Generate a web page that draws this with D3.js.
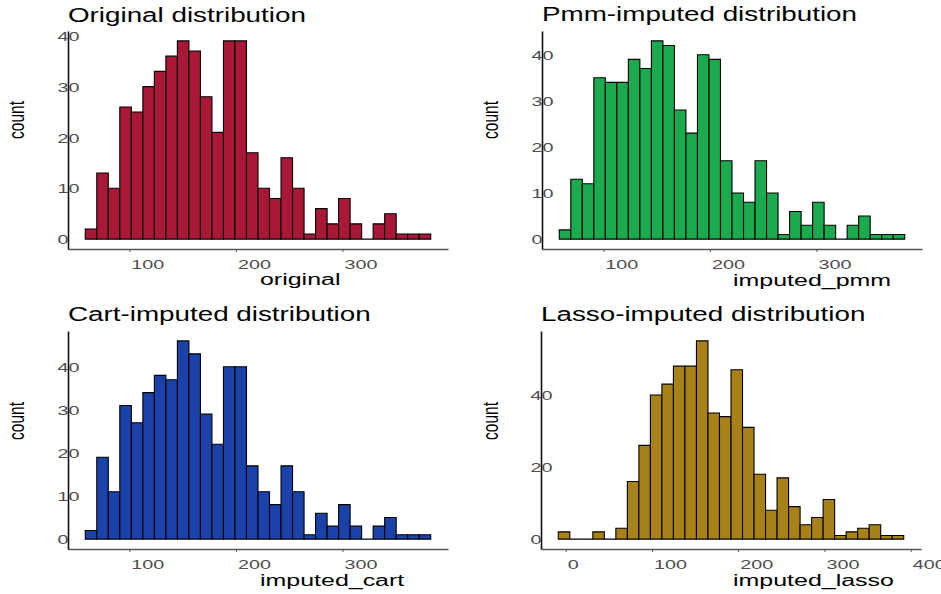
<!DOCTYPE html>
<html>
<head>
<meta charset="utf-8">
<script src="https://cdn.jsdelivr.net/npm/d3@7"></script>
<style>
  body { margin: 0; background: #fff; }
  svg { display: block; font-family: "Liberation Sans", Arial, sans-serif; }
</style>
</head>
<body>
<div id="chart"></div>
<script>
// datos: conteos por bin (30 bins cada histograma)
const origCounts  = [2,13,10,26,25,30,33,36,39,37,28,21,39,39,17,10,8,16,10,1,6,3,8,3,0,3,5,1,1,1]
const pmmCounts   = [2,13,12,35,34,34,39,37,43,42,28,23,40,39,17,10,8,17,10,1,6,3,8,3,0,3,5,1,1,1]
const cartCounts  = [2,19,11,31,27,34,38,37,46,43,29,22,40,40,17,11,8,17,11,1,6,3,8,3,0,3,5,1,1,1]
const lassoCounts = [2,0,0,2,0,3,16,26,40,43,48,48,55,35,34,47,31,18,8,17,9,4,6,11,1,2,3,4,1,1]

const titles = ["Original distribution", "Pmm-imputed distribution", "Cart-imputed distribution", "Lasso-imputed distribution"]
const xLabels = ["original", "imputed_pmm", "imputed_cart", "imputed_lasso"]
const binStarts = [58.6, 58.6, 58.6, -8.6]
const binWidths = [10.81, 10.81, 10.81, 13.35]
const xTicks = [[100, 200, 300], [100, 200, 300], [100, 200, 300], [0, 100, 200, 300, 400]]
const yTicks = [[0, 10, 20, 30, 40], [0, 10, 20, 30, 40], [0, 10, 20, 30, 40], [0, 20, 40]]
const fills = ["#AA1838", "#1BAA4E", "#1A42A8", "#A98119"]

const allCounts = [origCounts, pmmCounts, cartCounts, lassoCounts]

const width = 941
const height = 594
const plotW = 380
const plotH = 218

// posiciones de los paneles
const panels = [
    {left: 68, top: 31, xLab: 260, yLab: 285, countX: 23.5, countY: 120, titleY: 22},
    {left: 542, top: 31, xLab: 733, yLab: 286, countX: 498, countY: 120, titleY: 21},
    {left: 68, top: 331, xLab: 260, yLab: 586, countX: 23.5, countY: 421, titleY: 321},
    {left: 541, top: 331, xLab: 733, yLab: 586, countX: 498, countY: 421, titleY: 321}
]

const svg = d3.select("div#chart").append("svg").attr("width", width).attr("height", height)

panels.forEach((p, i) => {
    const counts = allCounts[i]
    const bins = counts.map((c, j) => ({x0: binStarts[i] + j * binWidths[i], x1: binStarts[i] + (j + 1) * binWidths[i], n: c}))
    const R = binWidths[i] * counts.length
    const maxN = d3.max(counts)

    const x = d3.scaleLinear()
        .domain([binStarts[i] - 0.05 * R, binStarts[i] + 1.05 * R])
        .range([0, plotW])
    const y = d3.scaleLinear()
        .domain([-0.05 * maxN, 1.05 * maxN])
        .range([plotH, 0])

    const g = svg.append("g").attr("transform", `translate(${p.left}, ${p.top})`)

    // barras (path para que los bins vacíos se vean como línea)
    g.selectAll("path.bar")
        .data(bins)
        .enter()
        .append("path")
        .attr("class", "bar")
        .attr("d", d => `M${x(d.x0)},${y(0)}V${y(d.n)}H${x(d.x1)}V${y(0)}Z`)
        .attr("fill", fills[i])
        .attr("stroke", "#000")
        .attr("stroke-width", 1.1)

    // eje x
    const xAxisG = g.append("g")
        .attr("transform", `translate(0, ${plotH})`)
        .call(d3.axisBottom(x).tickValues(xTicks[i]).tickSize(3).tickSizeOuter(0))
    xAxisG.select(".domain").attr("stroke", "#555").attr("stroke-width", 1.3)
    xAxisG.selectAll(".tick line").attr("stroke", "#555")
    xAxisG.selectAll(".tick text")
        .attr("x", 0).attr("y", 0).attr("dy", null)
        .attr("text-anchor", "start")
        .attr("transform", "translate(1.5, 19.5) scale(1.57, 1)")
        .attr("font-size", 12.6)
        .attr("font-family", "Liberation Sans, Arial, sans-serif")
        .attr("fill", "#4d4d4d")

    // eje y
    const yAxisG = g.append("g")
        .call(d3.axisLeft(y).tickValues(yTicks[i]).tickSize(0).tickSizeOuter(0))
    yAxisG.select(".domain").attr("stroke", "#111").attr("stroke-width", 1.6)
    yAxisG.selectAll(".tick text")
        .attr("x", 0).attr("dy", "0.36em")
        .attr("text-anchor", "start")
        .attr("transform", "translate(-10.5, 0) scale(1.57, 1)")
        .attr("font-size", 12.6)
        .attr("font-family", "Liberation Sans, Arial, sans-serif")
        .attr("fill", "#4d4d4d")

    // título
    svg.append("text")
        .attr("transform", `translate(${p.left}, ${p.titleY}) scale(1.39, 1)`)
        .attr("font-size", 20)
        .attr("fill", "#000")
        .text(titles[i])

    // etiqueta eje x
    svg.append("text")
        .attr("transform", `translate(${p.xLab}, ${p.yLab}) scale(1.56, 1)`)
        .attr("font-size", 16)
        .attr("fill", "#000")
        .text(xLabels[i])

    // etiqueta eje y
    svg.append("text")
        .attr("transform", `translate(${p.countX}, ${p.countY}) scale(1.45, 1) rotate(-90)`)
        .attr("text-anchor", "middle")
        .attr("font-size", 15.5)
        .attr("fill", "#000")
        .text("count")
})
</script>
</body>
</html>
